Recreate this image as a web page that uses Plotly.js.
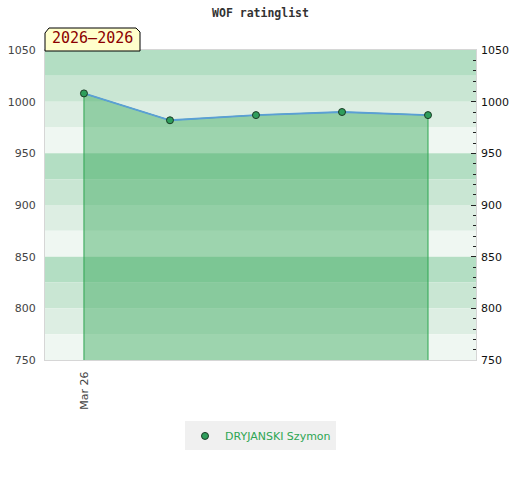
<!DOCTYPE html>
<html>
<head>
<meta charset="utf-8">
<script src="https://cdn.plot.ly/plotly-3.0.1.min.js"></script>
<style>html,body{margin:0;padding:0;background:#fff}#chart{width:520px;height:480px}</style>
</head>
<body>
<div id="chart"></div>
<script>
// Data
const playerName = 'DRYJANSKI Szymon';
const periodLabel = '2026–2026';
const chartTitle = 'WOF ratinglist';
const pointIndex = [0, 1, 2, 3, 4];
const ratings = [1008, 982, 987, 990, 987];
const tickPositions = [0];
const tickLabels = ['Mar 26'];
const yMin = 750, yMax = 1050;

// Background bands (styling)
const bandColors = ['#b3dec3', '#c9e6d3', '#ddeee3', '#eff7f2']; // from top down
const shapes = [];
let k = 0;
for (let top = yMax; top > yMin; top -= 25) {
  shapes.push({type:'rect', xref:'paper', yref:'y', x0:0, x1:1, y0:top-25, y1:top,
    fillcolor: bandColors[k % 4], line:{width:0}, layer:'below'});
  k++;
}
// label box with clipped corners
shapes.push({type:'path', xref:'paper', yref:'paper', xsizemode:'pixel', ysizemode:'pixel',
  xanchor:0, yanchor:1, path:'M0,-1 L0,17 L4,22 L91,22 L95,18 L95,-1 Z',
  fillcolor:'#ffffcc', line:{color:'#000', width:1}, layer:'above'});

const polyX = [pointIndex[0]].concat(pointIndex, [pointIndex[pointIndex.length-1]]);
const polyY = [yMin].concat(ratings, [yMin]);

const traces = [
  {x: polyX, y: polyY, type:'scatter', mode:'lines', fill:'toself',
   fillcolor:'rgba(57,169,91,0.45)', line:{color:'#2ea653', width:1}, showlegend:false, hoverinfo:'skip'},
  {x: pointIndex, y: ratings, type:'scatter', mode:'lines', line:{color:'#5b9fd6', width:1.8},
   showlegend:false},
  {x: pointIndex, y: ratings, type:'scatter', mode:'markers', name: playerName,
   marker:{size:7, color:'#2e9e5b', line:{color:'#1b3b26', width:1}}},
  {x: pointIndex, y: ratings, type:'scatter', mode:'markers', yaxis:'y2', showlegend:false,
   marker:{opacity:0}, hoverinfo:'skip'}
];

const layout = {
  width:520, height:480,
  margin:{l:45, r:44, t:50, b:120},
  paper_bgcolor:'#fff', plot_bgcolor:'#fff',
  font:{family:'DejaVu Sans', size:11, color:'#444'},
  title:{text:chartTitle, x:0.5, xref:'paper', y:0.973, yanchor:'middle',
    font:{family:'DejaVu Sans Mono', size:11.5, color:'#333', weight:'bold'}},
  xaxis:{range:[-0.453, 4.558], tickvals:tickPositions, ticktext:tickLabels, tickangle:-90,
    showgrid:false, zeroline:false, showline:true, linecolor:'#d6d6d6', linewidth:1, mirror:true,
    ticks:'', ticklabelstandoff:6, tickfont:{size:11, color:'#444'}},
  yaxis:{range:[yMin, yMax], dtick:50, showgrid:false, zeroline:false, showline:true,
    linecolor:'#d6d6d6', mirror:true, ticks:'', ticklabelstandoff:6, tickfont:{size:11, color:'#444'}},
  yaxis2:{range:[yMin, yMax], dtick:50, overlaying:'y', side:'right', showgrid:false,
    zeroline:false, ticks:'inside', ticklen:5, tickcolor:'#222', tickwidth:1, ticklabelstandoff:4,
    minor:{dtick:10, ticks:'inside', ticklen:3, tickcolor:'#222', showgrid:false},
    tickfont:{size:11, color:'#111'}},
  showlegend:true,
  legend:{orientation:'h', x:0.5, xanchor:'center', y:-0.245, yanchor:'middle',
    itemwidth:30, bgcolor:'#f0f0f0', font:{size:11, color:'#2ea653'}},
  shapes: shapes,
  annotations:[{text:periodLabel, xref:'paper', yref:'paper', x:0, y:1, xanchor:'left',
    yanchor:'bottom', xshift:5, yshift:1, showarrow:false,
    font:{family:'DejaVu Sans Mono', size:15, color:'#8b0000'}}]
};

Plotly.newPlot('chart', traces, layout, {displayModeBar:false, staticPlot:true});
</script>
</body>
</html>
